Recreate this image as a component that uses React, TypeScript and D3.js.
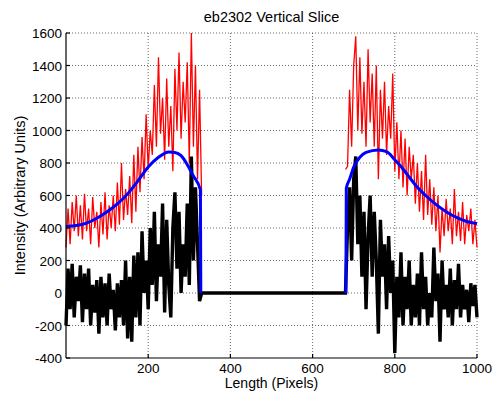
import React from "react";
import * as d3 from "d3";

// sample positions (Length, pixels) for the two measured segments
const leftX = d3.range(0, 335, 5);
const rightX = d3.range(680, 1005, 5);

// red: raw intensity, left / right segments
const redLeft = [
  280, 520, 300, 560, 380, 600, 350, 540, 330, 610, 380, 520, 300, 590, 400, 500, 280,
  560, 360, 620, 330, 540, 400, 600, 380, 680, 420, 800, 450, 640, 480, 720, 430, 850,
  500, 900, 620, 960, 700, 1100, 760, 1000, 850, 1280, 900, 1450, 980, 1200, 820, 1320,
  900, 1150, 750, 1380, 1000, 1480, 950, 1300, 1050, 1420, 800, 1600, 900, 1400, 700,
  1250, 600,
];
const redRight = [
  760, 780, 1250, 900, 1400, 1580, 1000, 1450, 980, 1300, 900, 1500, 1050, 1350, 900,
  1400, 700, 1250, 950, 1300, 850, 1150, 950, 1350, 750, 1050, 700, 1000, 650, 950, 600,
  900, 700, 850, 550, 800, 500, 750, 450, 850, 480, 700, 420, 650, 380, 600, 250, 520,
  350, 580, 380, 520, 300, 640, 350, 500, 320, 560, 300, 480, 380, 520, 300, 450, 280,
];

// black: background-subtracted intensity
const blackLeft = [
  -200, 150, -100, 180, -150, 100, -50, 170, -180, 120, -100, 150, -200, 50, -120, 80,
  -250, 100, -150, 60, -200, 120, -100, 20, -230, 60, -150, 80, -200, 200, -280, 100,
  -300, 230, -150, 250, -200, 380, 0, 200, -100, 400, 50, 500, -50, 300, 100, 550, -120,
  450, 50, -150, 400, 620, 150, 500, 0, 300, 100, 550, 50, 840, 200, 650, 300, -50, 0,
];
const blackRight = [
  0, 400, 650, 200, 700, 840, 300, 600, 100, 500, -100, 350, 600, 100, 500, 200, -250,
  450, 100, 300, -100, 350, 0, 200, -370, 100, -150, 250, -200, 100, -100, 200, -200, 50,
  -150, 120, -200, 250, -100, 100, -200, 0, -150, 280, -50, 120, -300, 200, -100, 50,
  -150, 150, -200, 80, -100, 180, -150, 50, -100, 20, -180, 60, -80, 50, -150,
];

// blue: fitted curve
const blueLeftX = [0, 25, 50, 75, 100, 125, 150, 175, 200, 225, 250, 265, 280, 295, 310, 327, 328];
const blueLeft = [410, 415, 430, 460, 500, 548, 610, 690, 775, 835, 868, 865, 845, 790, 720, 635, 0];
const blueRightX = [681, 682, 690, 700, 715, 730, 760, 780, 800, 815, 830, 850, 875, 900, 925, 950, 975, 1000];
const blueRight = [0, 645, 700, 775, 835, 865, 880, 870, 820, 778, 730, 665, 600, 545, 500, 465, 440, 426];

const xTicks = [200, 400, 600, 800, 1000];
const yTicks = [-400, -200, 0, 200, 400, 600, 800, 1000, 1200, 1400, 1600];

const W = 493, H = 395;
const margin = { left: 66, right: 16, top: 33, bottom: 37 };

export default function App() {
  const x = d3.scaleLinear().domain([0, 1000]).range([margin.left, W - margin.right]);
  const y = d3.scaleLinear().domain([-400, 1600]).range([H - margin.bottom, margin.top]);

  const line = d3.line<[number, number]>().x(d => x(d[0])).y(d => y(d[1]));
  const smooth = d3.line<[number, number]>().x(d => x(d[0])).y(d => y(d[1])).curve(d3.curveMonotoneX);

  const zip = (xs: number[], ys: number[]) => xs.map((v, i) => [v, ys[i]] as [number, number]);
  const red1 = zip(leftX, redLeft);
  const red2 = zip(rightX, redRight);
  const black = zip(leftX, blackLeft).concat(zip(rightX, blackRight));
  const blue1 = zip(blueLeftX, blueLeft);
  const blue2 = zip(blueRightX, blueRight);

  const [x0, x1] = x.range();
  const [y0, y1] = y.range();
  const font = "Arial, 'Liberation Sans', sans-serif";

  return (
    <svg width={W} height={H} style={{ position: "absolute", left: 0, top: 0, background: "#fff" }}>
      <rect width={W} height={H} fill="#fff" />
      {/* grid */}
      <g stroke="#444" strokeWidth={0.8} strokeDasharray="1,2">
        {xTicks.map(t => (
          <line key={"gx" + t} x1={x(t)} x2={x(t)} y1={y0} y2={y1} />
        ))}
        {yTicks.filter(t => t > -400).map(t => (
          <line key={"gy" + t} x1={x0} x2={x1} y1={y(t)} y2={y(t)} />
        ))}
      </g>

      <path d={line(red1) ?? ""} fill="none" stroke="#ff0000" strokeWidth={1.3} />
      <path d={line(red2) ?? ""} fill="none" stroke="#ff0000" strokeWidth={1.3} />
      <path d={line(black) ?? ""} fill="none" stroke="#000" strokeWidth={3.4} strokeLinejoin="miter" />
      <path d={smooth(blue1) ?? ""} fill="none" stroke="#0000ff" strokeWidth={3} />
      <path d={smooth(blue2) ?? ""} fill="none" stroke="#0000ff" strokeWidth={3} />

      {/* axes */}
      <g stroke="#000" strokeWidth={1.2}>
        <line x1={x0} x2={x0} y1={y0} y2={y1} />
        <line x1={x0} x2={x1} y1={y0} y2={y0} />
        {xTicks.map(t => (
          <line key={"tx" + t} x1={x(t)} x2={x(t)} y1={y0} y2={y0 - 4} />
        ))}
        {yTicks.map(t => (
          <line key={"ty" + t} x1={x0} x2={x0 + 4} y1={y(t)} y2={y(t)} />
        ))}
      </g>

      <g fontFamily={font} fontSize={13.5} fill="#000">
        {xTicks.map(t => (
          <text key={"lx" + t} x={x(t)} y={y0 + 15} textAnchor="middle">
            {t}
          </text>
        ))}
        {yTicks.map(t => (
          <text key={"ly" + t} x={x0 - 4} y={y(t) + 5} textAnchor="end">
            {t}
          </text>
        ))}
        <text x={(x0 + x1) / 2} y={388} textAnchor="middle" fontSize={14}>
          Length (Pixels)
        </text>
        <text transform={`translate(25,${(y0 + y1) / 2}) rotate(-90)`} textAnchor="middle" fontSize={14.5}>
          Intensity (Arbitrary Units)
        </text>
        <text x={(x0 + x1) / 2} y={22} textAnchor="middle" fontSize={14.5}>
          eb2302 Vertical Slice
        </text>
      </g>
    </svg>
  );
}
